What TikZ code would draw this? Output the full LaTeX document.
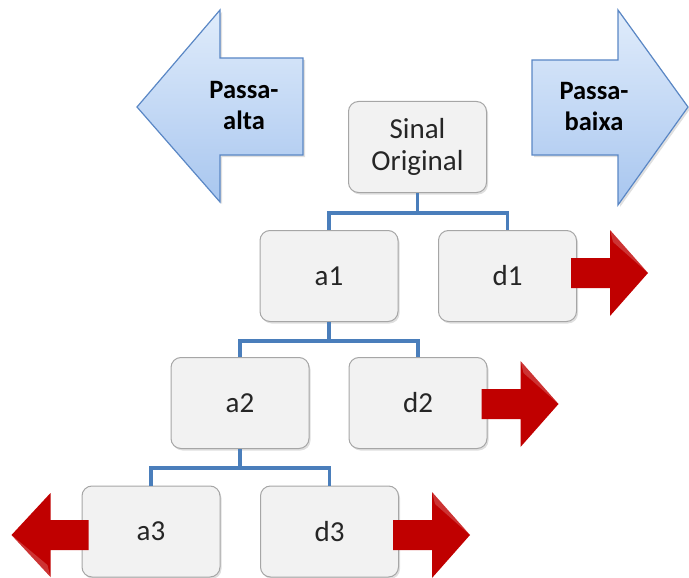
\documentclass[tikz,border=0pt]{standalone}
\usepackage{fontspec}
\setmainfont{Carlito}
\usetikzlibrary{shadows}

\definecolor{boxfill}{HTML}{F2F2F2}
\definecolor{boxline}{HTML}{A6A6A6}
\definecolor{linkblue}{HTML}{4A7EBB}
\definecolor{arrowtop}{HTML}{E0ECFB}
\definecolor{arrowbot}{HTML}{A8C6EF}
\definecolor{arrowline}{HTML}{5A87C5}
\definecolor{darkred}{HTML}{C00000}

\tikzset{
  stagebox/.style={draw=boxline, line width=1pt, fill=boxfill, rounded corners=10pt,
    minimum width=138pt, minimum height=91pt, inner sep=0pt, align=center,
    font=\fontsize{29}{32}\selectfont, text=black!85,
    drop shadow={shadow xshift=1.5pt, shadow yshift=-2pt, opacity=0.25}},
  link/.style={draw=linkblue, line width=3.2pt},
  bandarrow/.style={draw=arrowline, line width=1.2pt, top color=arrowtop, bottom color=arrowbot,
    drop shadow={shadow xshift=2pt, shadow yshift=-2pt, opacity=0.25}},
  bandlabel/.style={align=center, font=\bfseries\fontsize{26.5}{31}\selectfont, text=black},
  outarrow/.style={fill=darkred},
}

% red output arrow leaving a box to the right (#1 = box name, #2 = vertical offset)
\newcommand\outright[2]{%
  \fill[outarrow] ([xshift=-6pt,yshift=#2]#1.east) ++(0,-15) -- ++(39,0) -- ++(0,-28)
    -- ++(38,43) -- ++(-38,43) -- ++(0,-28) -- ++(-39,0) -- cycle;
  \fill[white, opacity=0.2] ([xshift=-6pt,yshift=#2]#1.east) ++(77,0) -- ++(-38,-43) -- ++(3,12) -- cycle;}

\begin{document}
\begin{tikzpicture}[x=1pt, y=-1pt]
\useasboundingbox (0,0) rectangle (689,578);

% high-pass / low-pass band arrows
\draw[bandarrow] (137,107) -- (220,10) -- (220,58) -- (303,58) -- (303,155) -- (220,155) -- (220,202) -- cycle;
\node[bandlabel] (passaalta) at (244,106) {Passa-\\alta};
\draw[bandarrow] (532,60) -- (618,60) -- (618,10) -- (688,107) -- (618,205) -- (618,155) -- (532,155) -- cycle;
\node[bandlabel] (passabaixa) at (594,107) {Passa-\\baixa};

% decomposition tree
\node[stagebox] (sinal) at (417.5,147) {Sinal\\Original};
\node[stagebox] (a1) at (329,276) {a1};
\node[stagebox] (d1) at (507.5,276) {d1};
\node[stagebox] (a2) at (240,403) {a2};
\node[stagebox] (d2) at (418,403) {d2};
\node[stagebox] (a3) at (151,531.5) {a3};
\node[stagebox] (d3) at (329.5,531.5) {d3};

% branch connectors
\draw[link] (sinal.south) -- ++(0,20) coordinate (j1) -| (a1.north);
\draw[link] (j1) -| (d1.north);
\draw[link] (a1.south) -- ++(0,19) coordinate (j2) -| (a2.north);
\draw[link] (j2) -| (d2.north);
\draw[link] (a2.south) -- ++(0,19) coordinate (j3) -| (a3.north);
\draw[link] (j3) -| (d3.north);

% outputs
\outright{d1}{3pt}
\outright{d2}{-1pt}
\outright{d3}{-3.5pt}
\fill[outarrow] ([xshift=7pt,yshift=-3.5pt]a3.west) ++(0,-15) -- ++(-38,0) -- ++(0,-27)
  -- ++(-39,42) -- ++(39,42) -- ++(0,-27) -- ++(38,0) -- cycle;
\fill[white, opacity=0.2] ([xshift=7pt,yshift=-3.5pt]a3.west) ++(-77,0) -- ++(39,42) -- ++(-3,-12) -- cycle;
\end{tikzpicture}
\end{document}
